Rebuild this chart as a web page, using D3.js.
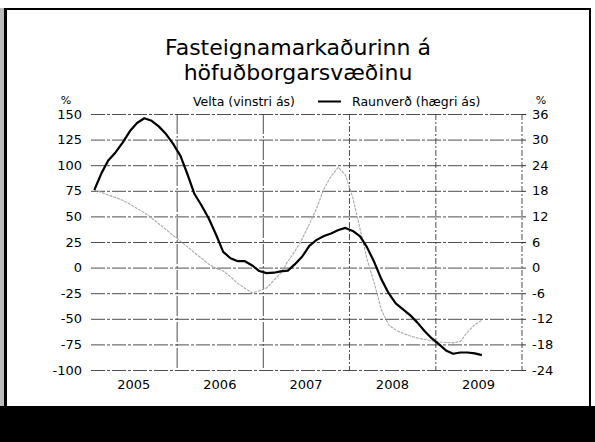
<!DOCTYPE html>
<html>
<head>
<meta charset="utf-8">
<script src="https://cdn.jsdelivr.net/npm/d3@7"></script>
<style>
  body { margin: 0; background: #fff; }
  text { font-family: "DejaVu Sans", Verdana, sans-serif; fill: #000; }
</style>
</head>
<body>
<div id="chart"></div>
<script>
// monthly values, Jan 2005 - Jul 2009
let velta = [75.8, 73.4, 70.9, 68.4, 65.8, 61.8, 57.7, 53.6, 48.4, 42.8, 37.1, 31.4,
             25.8, 20.1, 14.6, 9.0, 3.3, -0.7, -3.2, -9.0, -15.4, -20.2, -24.6, -22.7,
             -19.9, -12.4, -5.6, 6.0, 16.0, 28.3, 42.4, 57.9, 77.0, 89.1, 98.0, 90.4,
             68.5, 37.6, 8.7, -15.1, -41.1, -55.9, -61.0, -64.2, -66.8, -68.8, -70.2, -71.4,
             -72.6, -73.1, -73.5, -72.1, -63.0, -55.7, -51.4];
let raunverd = [18.2, 22.2, 25.1, 27.0, 29.3, 32.0, 33.9, 35.0, 34.4, 33.1, 31.3, 29.0,
                26.2, 21.7, 17.3, 14.5, 11.5, 7.7, 3.7, 2.2, 1.5, 1.5, 0.5, -0.8,
                -1.3, -1.2, -0.9, -0.7, 0.8, 2.6, 5.1, 6.5, 7.4, 8.0, 8.8, 9.3,
                8.6, 7.3, 4.8, 1.3, -2.7, -6.0, -8.4, -9.8, -11.2, -12.9, -14.9, -16.6,
                -18.0, -19.5, -20.2, -19.9, -19.9, -20.1, -20.5];
let years = [2005, 2006, 2007, 2008, 2009];
let leftTicks = [150, 125, 100, 75, 50, 25, 0, -25, -50, -75, -100];
let rightTicks = [36, 30, 24, 18, 12, 6, 0, -6, -12, -18, -24];
let title = ["Fasteignamarkaðurinn á", "höfuðborgarsvæðinu"];
let legendLabels = ["Velta (vinstri ás)", "Raunverð (hægri ás)"];

let width = 595,
    height = 442;
let margin = {left: 91, right: 522, top: 114, bottom: 370};

let svg = d3.select("div#chart").append("svg")
  .attr("width", width)
  .attr("height", height);

// frame of the scanned page
svg.append("rect").attr("x", 0).attr("y", 0).attr("width", width).attr("height", height).attr("fill", "#fff");
svg.append("rect").attr("x", 0).attr("y", 8).attr("width", 4).attr("height", 434).attr("fill", "#bbb");
svg.append("rect").attr("x", 4).attr("y", 8).attr("width", 3).attr("height", 434).attr("fill", "#000");
svg.append("rect").attr("x", 4).attr("y", 8).attr("width", 587).attr("height", 2).attr("fill", "#000");
svg.append("rect").attr("x", 589).attr("y", 8).attr("width", 2).attr("height", 400).attr("fill", "#000");
svg.append("rect").attr("x", 0).attr("y", 406).attr("width", width).attr("height", 36).attr("fill", "#000");

let x = d3.scaleTime()
  .domain([new Date(2005, 0, 1), new Date(2010, 0, 1)])
  .range([margin.left, margin.right]);
let yLeft = d3.scaleLinear().domain([-100, 150]).range([margin.bottom, margin.top]);
let yRight = d3.scaleLinear().domain([-24, 36]).range([margin.bottom, margin.top]);

function monthDate(i) {
  return new Date(2005, i, 15);
}

// horizontal grid
svg.append("g")
  .attr("transform", "translate(" + margin.left + ",0)")
  .call(d3.axisLeft(yLeft).tickValues(leftTicks).tickSize(-(margin.right - margin.left)).tickFormat(""))
  .call(g => g.select(".domain").remove())
  .call(g => g.selectAll("line")
    .attr("stroke", "#3a3a3a")
    .attr("stroke-width", 0.9)
    .attr("stroke-dasharray", "14,2,3,2"));

// vertical grid at year boundaries
let yearLines = years.map(d => new Date(d + 1, 0, 1));
svg.append("g")
  .selectAll("line")
  .data(yearLines)
  .enter().append("line")
  .attr("x1", d => x(d))
  .attr("x2", d => x(d))
  .attr("y1", margin.top)
  .attr("y2", margin.bottom)
  .attr("stroke", "#3a3a3a")
  .attr("stroke-width", 0.9)
  .attr("stroke-dasharray", (d, i) => i < 2 ? "20,2,2,2" : "6,2,2,2");

// left axis labels
svg.append("g")
  .attr("transform", "translate(" + margin.left + ",0)")
  .call(d3.axisLeft(yLeft).tickValues(leftTicks).tickSize(0).tickPadding(9).tickFormat(d => String(d)))
  .call(g => g.select(".domain").remove())
  .call(g => g.selectAll("text")
    .style("font-size", "13px")
    .style("font-family", "DejaVu Sans, Verdana, sans-serif")
    .attr("fill", "#000"));

// right axis labels
svg.append("g")
  .attr("transform", "translate(" + margin.right + ",0)")
  .call(d3.axisRight(yRight).tickValues(rightTicks).tickSize(4).tickPadding(6).tickFormat(d => String(d)))
  .call(g => g.select(".domain").remove())
  .call(g => g.selectAll("line").attr("stroke", "#333"))
  .call(g => g.selectAll("text")
    .style("font-size", "13px")
    .style("font-family", "DejaVu Sans, Verdana, sans-serif")
    .attr("fill", "#000"));

// year labels centred in each year
svg.append("g")
  .selectAll("text")
  .data(years)
  .enter().append("text")
  .attr("x", d => x(new Date(d, 6, 1)))
  .attr("y", 389)
  .attr("text-anchor", "middle")
  .style("font-size", "13px")
  .text(d => d);

svg.append("text").attr("x", 66).attr("y", 104).attr("text-anchor", "middle").style("font-size", "11px").text("%");
svg.append("text").attr("x", 541).attr("y", 104).attr("text-anchor", "middle").style("font-size", "11px").text("%");

// title
svg.selectAll("text.title")
  .data(title)
  .enter().append("text")
  .attr("class", "title")
  .attr("x", 298)
  .attr("y", (d, i) => 55 + i * 25)
  .attr("text-anchor", "middle")
  .style("font-size", "22px")
  .text(d => d);

// legend
svg.append("text").attr("x", 193).attr("y", 106).style("font-size", "12.5px").text(legendLabels[0]);
svg.append("line")
  .attr("x1", 318).attr("x2", 341).attr("y1", 101.5).attr("y2", 101.5)
  .attr("stroke", "#000").attr("stroke-width", 2);
svg.append("text").attr("x", 352).attr("y", 106).style("font-size", "12.5px").text(legendLabels[1]);

// series
let lineLeft = d3.line()
  .x((d, i) => x(monthDate(i)))
  .y(d => yLeft(d));
let lineRight = d3.line()
  .x((d, i) => x(monthDate(i)))
  .y(d => yRight(d));

svg.append("path")
  .datum(velta)
  .attr("d", lineLeft)
  .attr("fill", "none")
  .attr("stroke", "#a8a8a8")
  .attr("stroke-width", 1.1)
  .attr("stroke-dasharray", "3,1");

svg.append("path")
  .datum(raunverd)
  .attr("d", lineRight)
  .attr("fill", "none")
  .attr("stroke", "#000")
  .attr("stroke-width", 2.2)
  .attr("stroke-linejoin", "round");
</script>
</body>
</html>
